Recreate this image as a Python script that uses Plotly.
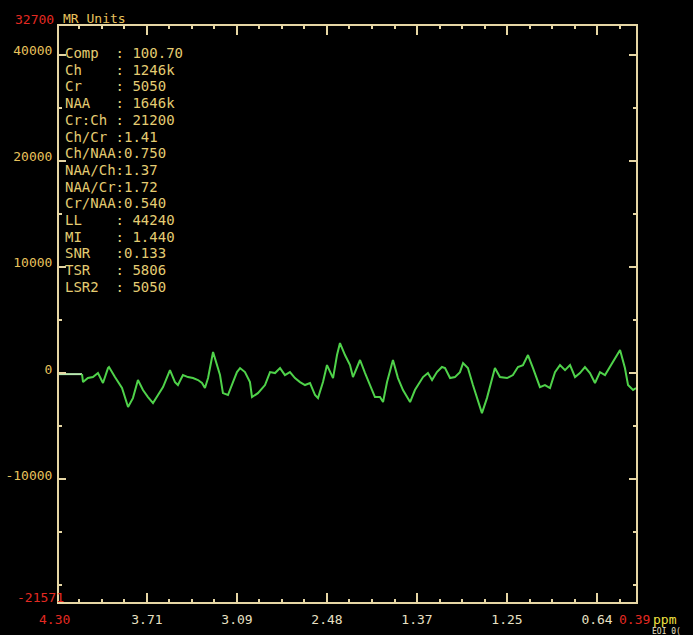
import plotly.graph_objects as go

# ---- data ----
ppm = [4.30, 4.144, 4.137, 4.104, 4.070, 4.036, 4.002, 3.968, 3.961, 3.921,
       3.873, 3.832, 3.799, 3.765, 3.731, 3.697, 3.663, 3.629, 3.595, 3.548,
       3.514, 3.494, 3.460, 3.426, 3.392, 3.358, 3.331, 3.311, 3.290, 3.256,
       3.229, 3.209, 3.189, 3.155, 3.121, 3.094, 3.073, 3.040, 3.006, 2.992,
       2.952, 2.904, 2.870, 2.836, 2.802, 2.769, 2.735, 2.701, 2.667, 2.633,
       2.599, 2.565, 2.545, 2.511, 2.484, 2.464, 2.443, 2.416, 2.396, 2.362,
       2.328, 2.308, 2.260, 2.226, 2.193, 2.159, 2.125, 2.104, 2.077, 2.037,
       2.003, 1.969, 1.921, 1.888, 1.867, 1.833, 1.800, 1.772, 1.739, 1.705,
       1.684, 1.650, 1.617, 1.583, 1.562, 1.529, 1.495, 1.461, 1.434, 1.400,
       1.366, 1.346, 1.312, 1.264, 1.224, 1.190, 1.156, 1.122, 1.088, 1.061,
       1.041, 1.007, 0.973, 0.939, 0.905, 0.871, 0.837, 0.803, 0.770, 0.736,
       0.702, 0.668, 0.634, 0.600, 0.566, 0.532, 0.498, 0.465, 0.444, 0.410,
       0.39]
signal = [-100, -100, -850, -470, -380, 0, -940, 470, 570, -380,
          -1410, -3200, -2360, -660, -1600, -2260, -2830, -2070, -1320, 280,
          -850, -1130, -190, -380, -470, -660, -940, -1410, -470, 1980,
          750, -190, -1890, -2070, -850, 90, 470, 90, -850, -2260,
          -1890, -1130, 90, 0, 470, -190, 90, -470, -850, -1130,
          -940, -2070, -2360, -850, 750, 90, -470, 1700, 2830, 1700,
          750, -380, 1230, 0, -1130, -2260, -2260, -2730, -850, 1230,
          -470, -1600, -2730, -1600, -1130, -380, 0, -660, 90, 570,
          470, -470, -380, 90, 940, 470, -1130, -2730, -3770, -2360,
          -470, 470, -380, -470, -190, 570, 750, 1700, 470, -470,
          -1320, -1130, -1410, 90, 750, 280, 750, -380, 0, 570,
          0, -940, 90, -190, 570, 1410, 2170, 470, -1130, -1600,
          -1410]

x_range = [4.30, 0.39]
y_range = [-21571, 32700]

x_tickvals = [3.704, 3.094, 2.484, 1.874, 1.264, 0.654]
x_ticktext = ["3.71", "3.09", "2.48", "1.37", "1.25", "0.64"]
y_tickvals = [30000, 20000, 10000, 0, -10000]
y_ticktext = ["40000", "20000", "10000", "0", "-10000"]

stat_labels = ["Comp", "Ch", "Cr", "NAA", "Cr:Ch", "Ch/Cr", "Ch/NAA", "NAA/Ch",
               "NAA/Cr", "Cr/NAA", "LL", "MI", "SNR", "TSR", "LSR2"]
stat_values = [" 100.70", " 1246k", " 5050", " 1646k", " 21200", "1.41", "0.750",
               "1.37", "1.72", "0.540", " 44240", " 1.440", "0.133", " 5806", " 5050"]

# ---- style ----
W, H = 693, 635
ML, MR, MT, MB = 59, 57, 26, 33
FONT = "DejaVu Sans Mono"
AXIS = "#e6d6a4"
GOLD = "#e8c25c"
CREAM = "#e8e0c4"
RED = "#e42a22"
GREEN = "#4fd24a"

fig = go.Figure()
fig.add_trace(go.Scatter(x=ppm[:2], y=signal[:2], mode="lines",
                         line=dict(color="#b8e8b0", width=2), hoverinfo="skip"))
fig.add_trace(go.Scatter(x=ppm[1:], y=signal[1:], mode="lines",
                         line=dict(color=GREEN, width=2), hoverinfo="skip"))

fig.update_layout(
    width=W, height=H,
    margin=dict(l=ML, r=MR, t=MT, b=MB, autoexpand=False),
    paper_bgcolor="black", plot_bgcolor="black",
    showlegend=False,
    font=dict(family=FONT, size=13, color=GOLD),
)
fig.update_xaxes(
    range=x_range, showgrid=False, zeroline=False, automargin=False,
    showline=True, linecolor=AXIS, linewidth=2, mirror="ticks",
    ticks="inside", ticklen=9, tickwidth=1.5, tickcolor=AXIS,
    tickvals=x_tickvals, ticktext=x_ticktext,
    tickfont=dict(family=FONT, size=13, color=CREAM),
    ticklabelstandoff=4,
    minor=dict(tick0=3.704, dtick=0.1525, ticks="inside", ticklen=3,
               tickwidth=1.5, tickcolor=AXIS, showgrid=False),
)
fig.update_yaxes(
    range=y_range, showgrid=False, zeroline=False, automargin=False,
    showline=True, linecolor=AXIS, linewidth=2, mirror="ticks",
    ticks="inside", ticklen=7, tickwidth=1.5, tickcolor=AXIS,
    tickvals=y_tickvals, ticktext=y_ticktext,
    tickfont=dict(family=FONT, size=13, color=GOLD),
    ticklabelstandoff=2, ticklabelshift=-4,
    minor=dict(tick0=0, dtick=5000, ticks="inside", ticklen=3,
               tickwidth=1.5, tickcolor=AXIS, showgrid=False),
)

plot_h = H - MT - MB
def py(pix):
    return (H - MB - pix) / plot_h

plot_w = W - ML - MR
def px(pix):
    return (pix - ML) / plot_w

# stats block
for i, (lab, val) in enumerate(zip(stat_labels, stat_values)):
    fig.add_annotation(xref="paper", yref="paper", x=px(63), y=py(53 + 16.7 * i),
                       xanchor="left", yanchor="middle", showarrow=False,
                       text=f"{lab:<6}:{val}".replace(" ", "&nbsp;"),
                       font=dict(family=FONT, size=14, color="#e4cc72"))

corner = [
    ("32700", px(56), py(19), "right", RED, 13),
    ("MR&nbsp;Units", px(61), py(18), "left", GOLD, 13),
    ("-21571", px(66), py(597), "right", RED, 13),
    ("4.30", px(54), py(619), "center", RED, 13),
    ("0.39", px(634), py(619), "center", RED, 13),
    ("ppm", px(651), py(619), "left", "#f0e040", 13),
    ("EOI&nbsp;0(", px(650), py(631), "left", CREAM, 8),
]
for txt, xx, yy, anc, col, sz in corner:
    fig.add_annotation(xref="paper", yref="paper", x=xx, y=yy, xanchor=anc,
                       yanchor="middle", showarrow=False, text=txt,
                       font=dict(family=FONT, size=sz, color=col))

fig.write_html("out.html", config={"displayModeBar": False},
               post_script="document.body.style.margin='0';document.body.style.background='black';")
